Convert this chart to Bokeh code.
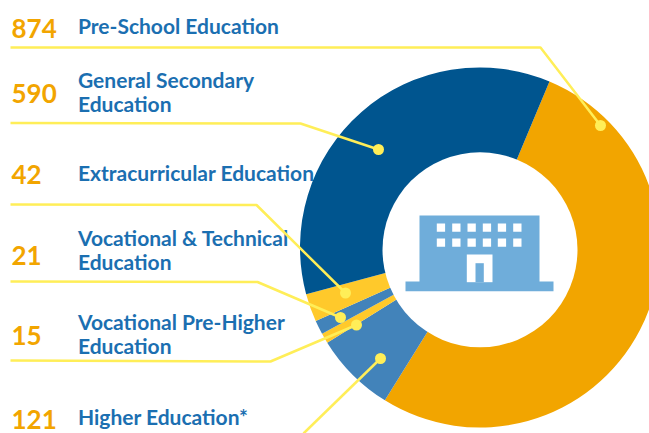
import math
from bokeh.plotting import figure
from bokeh.models import Range1d
from bokeh.core.properties import value
from bokeh.embed import file_html
from bokeh.resources import INLINE

# Data
categories = ["Pre-School Education", "Higher Education*", "Vocational Pre-Higher Education",
              "Vocational & Technical Education", "Extracurricular Education", "General Secondary Education"]
values = [874, 121, 15, 21, 42, 590]
colors = ["#F2A500", "#4283BA", "#FFC92B", "#4283BA", "#FFC92B", "#00558F"]

# Labels in reading order: number, lines of text
rows = [("874", ["Pre-School Education"]),
        ("590", ["General Secondary", "Education"]),
        ("42", ["Extracurricular Education"]),
        ("21", ["Vocational & Technical", "Education"]),
        ("15", ["Vocational Pre-Higher", "Education"]),
        ("121", ["Higher Education*"])]

# Layout (page pixels)
W, H = 649, 433
CX, CY, R_OUT = 479.5, 247, 180
HOLE_X, HOLE_Y, HOLE_R = 479.5, 249.3, 97.5
START_DEG = 22.7
NUM_SHIFT, LAB_SHIFT = 9, 8
num_base = [37, 101.5, 183, 264, 344, 428]
lab_base = [[33], [87, 111], [180], [245, 269], [329, 353], [424]]
leaders = [[(10, 47), (540, 47), (600, 125)],
           [(10, 122.5), (300, 123), (378, 149)],
           [(10, 204), (256, 204.5), (345, 292.5)],
           [(10, 281), (257, 281.5), (340, 317)],
           [(10, 360), (270, 361), (356, 324.5)],
           [(303, 433), (380, 358)]]

Y = lambda py: H - py

p = figure(width=W, height=H, output_backend="svg", toolbar_location=None,
           x_range=Range1d(0, W), y_range=Range1d(0, H),
           min_border=0, outline_line_color=None, background_fill_color="white")
p.axis.visible = False
p.grid.visible = False

NUM = "#F2A500"
LAB = "#1B6FB1"
for (num, lines), nb, lbs in zip(rows, num_base, lab_base):
    p.text([11], [Y(nb - NUM_SHIFT)], text=[num], text_font=value("Lato"), text_font_style="bold",
           text_font_size="26px", text_color=NUM, text_baseline="alphabetic")
    for line, b in zip(lines, lbs):
        p.text([77.5], [Y(b - LAB_SHIFT)], text=[line], text_font=value("Lato"), text_font_style="bold",
               text_font_size="21px", text_color=LAB, text_baseline="alphabetic")

# Donut from the values
total = sum(values)
ang = math.pi / 2 - math.radians(START_DEG)
starts, ends = [], []
for v in values:
    starts.append(ang)
    ang -= v / total * 2 * math.pi
    ends.append(ang)
p.annular_wedge([CX] * len(values), [Y(CY)] * len(values), HOLE_R - 10, R_OUT, starts, ends,
                direction="clock", fill_color=colors, line_color=None)
p.circle([HOLE_X], [Y(HOLE_Y)], radius=HOLE_R, fill_color="white", line_color=None)

# Building icon
ICON = "#6FADDA"
p.quad(left=[405, 419], right=[553, 539], top=[Y(281), Y(215)], bottom=[Y(290.7), Y(281.5)],
       fill_color=ICON, line_color=None)
wx = [436.3, 451.7, 467, 482.3, 497.3, 512.7]
for wy in (223, 238):
    p.quad(left=wx, right=[x + 8.3 for x in wx], top=[Y(wy)] * 6, bottom=[Y(wy + 8.3)] * 6,
           fill_color="white", line_color=None)
p.quad(left=[466.3], right=[492], top=[Y(254)], bottom=[Y(281.7)], fill_color="white", line_color=None)
p.quad(left=[475], right=[483.3], top=[Y(262.7)], bottom=[Y(281.7)], fill_color=ICON, line_color=None)

# Leaders
LINE = "#FFEE58"
for pts in leaders:
    p.line([a for a, _ in pts], [Y(b) for _, b in pts], line_color=LINE, line_width=2.5)
    a, b = pts[-1]
    p.scatter([a], [Y(b)], size=11, fill_color=LINE, line_color=None)

open("out.html", "w").write(file_html(p, INLINE))
